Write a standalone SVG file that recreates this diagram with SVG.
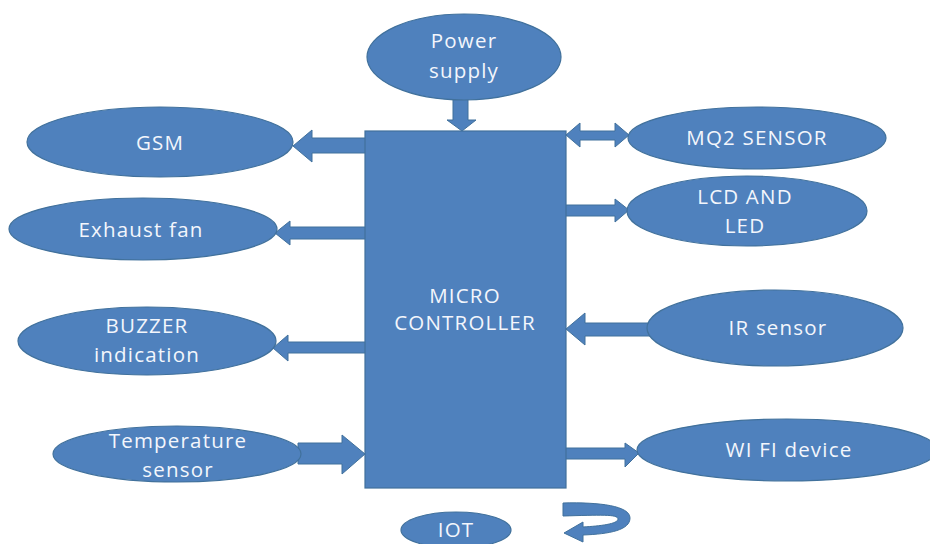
<svg xmlns="http://www.w3.org/2000/svg" width="930" height="544" viewBox="0 0 930 544">
<style>
.n{fill:#4f81bd;stroke:#41719c;stroke-width:1.2}
.a{fill:#4f81bd;stroke:#41719c;stroke-width:1}
.t{font-family:"Open Sans","Liberation Sans",sans-serif;font-size:20.5px;fill:#f3f6fc;text-anchor:middle;letter-spacing:1.2px}
</style>
<rect width="930" height="544" fill="#ffffff"/>
<g id="connectors">
<polygon class="a" points="453,96 468,96 468,120 476,120 462,131 447,120 453,120"/>
<polygon class="a" points="366,138 312,138 312,130 293,146 312,162 312,153 366,153"/>
<polygon class="a" points="366,227 290,227 290,221 275,233 290,245 290,239 366,239"/>
<polygon class="a" points="366,342 288,342 288,335 273,348 288,361 288,353 366,353"/>
<polygon class="a" points="298,443 342,443 342,435 365,454 342,474 342,464 298,464"/>
<polygon class="a" points="566,135 580,123 580,131 615,131 615,123 629,135 615,147 615,140 580,140 580,147"/>
<polygon class="a" points="565,205 615,205 615,199 629,210 615,222 615,216 565,216"/>
<polygon class="a" points="650,323 585,323 585,313 566,329 585,345 585,336 650,336"/>
<polygon class="a" points="565,448 625,448 625,443 639,453 625,467 625,459 565,459"/>
<path class="a" d="M563,503 C600,502 630,506 630,518 C630,530 610,534 583,535 L583,542 L564,533 L583,522 L583,527 C600,526 618,524 618,519 C618,514 600,515 563,516 Z"/>
</g>
<g id="power">
<ellipse class="n" cx="464" cy="57" rx="97" ry="43"/>
<text class="t" x="464" y="48">Power</text>
<text class="t" x="464" y="78">supply</text>
</g>
<g id="gsm">
<ellipse class="n" cx="160" cy="142" rx="133" ry="35"/>
<text class="t" x="160" y="150">GSM</text>
</g>
<g id="exhaust">
<ellipse class="n" cx="143" cy="229" rx="134" ry="31"/>
<text class="t" x="141" y="237">Exhaust fan</text>
</g>
<g id="buzzer">
<ellipse class="n" cx="147" cy="341" rx="129" ry="34"/>
<text class="t" x="147" y="333">BUZZER</text>
<text class="t" x="147" y="362">indication</text>
</g>
<g id="temperature">
<ellipse class="n" cx="177" cy="454" rx="124" ry="28"/>
<text class="t" x="178" y="448">Temperature</text>
<text class="t" x="178" y="477">sensor</text>
</g>
<g id="controller">
<rect class="n" x="365" y="131" width="201" height="357"/>
<text class="t" x="465" y="303">MICRO</text>
<text class="t" x="465" y="330">CONTROLLER</text>
</g>
<g id="mq2">
<ellipse class="n" cx="757" cy="138" rx="129" ry="31"/>
<text class="t" x="757" y="145">MQ2 SENSOR</text>
</g>
<g id="lcd">
<ellipse class="n" cx="747" cy="211" rx="120" ry="35"/>
<text class="t" x="745" y="204">LCD AND</text>
<text class="t" x="745" y="233">LED</text>
</g>
<g id="ir">
<ellipse class="n" cx="775" cy="328" rx="128" ry="38"/>
<text class="t" x="778" y="335">IR sensor</text>
</g>
<g id="wifi">
<ellipse class="n" cx="787" cy="450" rx="150" ry="31"/>
<text class="t" x="789" y="457">WI FI device</text>
</g>
<g id="iot">
<ellipse class="n" cx="456" cy="530" rx="55" ry="18"/>
<text class="t" x="456" y="537">IOT</text>
</g>
</svg>
